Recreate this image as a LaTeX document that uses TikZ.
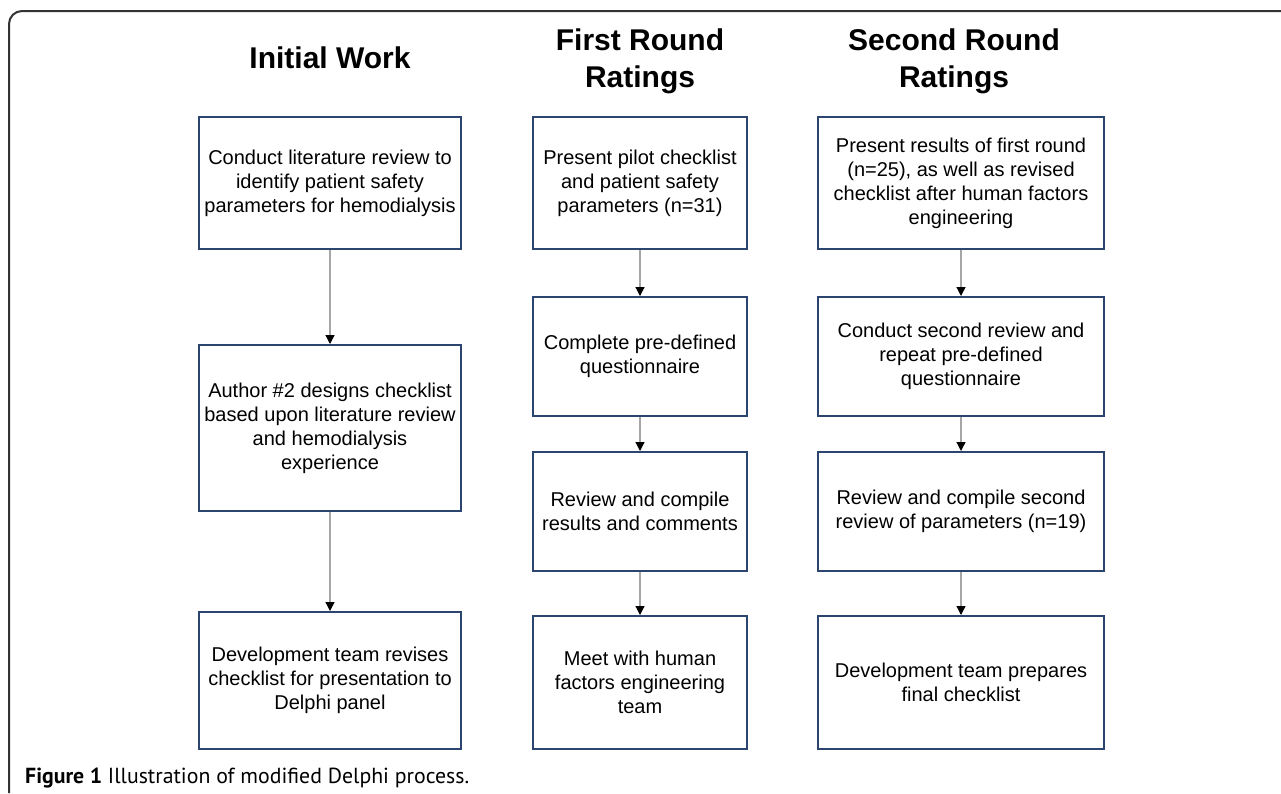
\documentclass[tikz,border=0pt]{standalone}
\usepackage{fontspec}
\setmainfont{Liberation Sans}
\newfontfamily\capfont{PT Sans}
\usetikzlibrary{arrows.meta}
\definecolor{boxblue}{HTML}{2B4570}
\definecolor{arrowgray}{HTML}{A6A6A6}
\definecolor{framegray}{HTML}{333333}
\tikzset{
  box/.style={draw=boxblue, line width=2pt, align=center, inner sep=0pt,
    font=\fontsize{20}{24}\selectfont},
  heading/.style={align=center, inner sep=0pt, font=\bfseries\fontsize{30}{37}\selectfont},
  flow/.style={draw=arrowgray, line width=1.2pt, -{Triangle[length=9pt,width=9pt,color=black]}},
}
\begin{document}
\begin{tikzpicture}[x=1pt,y=-1pt]
\useasboundingbox (0,0) rectangle (1281,793);
\draw[framegray, line width=2pt, rounded corners=13pt] (1281,11) -- (9,11) -- (9,793);

\node[heading] (h1) at (330,58) {Initial Work};
\node[heading] (h2) at (640,61.5) {First Round\\Ratings};
\node[heading] (h3) at (954,61.5) {Second Round\\Ratings};

% column 1
\node[box, minimum width=262pt, minimum height=132pt] (a1) at (330,183) {Conduct literature review to\\identify patient safety\\parameters for hemodialysis};
\node[box, minimum width=262pt, minimum height=166pt] (a2) at (330,428) {Author \#2 designs checklist\\based upon literature review\\and hemodialysis\\experience};
\node[box, minimum width=262pt, minimum height=137pt] (a3) at (330,680.5) {Development team revises\\checklist for presentation to\\Delphi panel};

% column 2
\node[box, minimum width=214pt, minimum height=132pt] (b1) at (640,183) {Present pilot checklist\\and patient safety\\parameters (n=31)};
\node[box, minimum width=214pt, minimum height=119pt] (b2) at (640,356.5) {Complete pre-defined\\questionnaire};
\node[box, minimum width=214pt, minimum height=119pt] (b3) at (640,511.5) {Review and compile\\results and comments};
\node[box, minimum width=214pt, minimum height=133pt] (b4) at (640,682.5) {Meet with human\\factors engineering\\team};

% column 3
\node[box, minimum width=286pt, minimum height=132pt] (c1) at (961,183) {Present results of first round\\(n=25), as well as revised\\checklist after human factors\\engineering};
\node[box, minimum width=286pt, minimum height=119pt] (c2) at (961,356.5) {Conduct second review and\\repeat pre-defined\\questionnaire};
\node[box, minimum width=286pt, minimum height=119pt] (c3) at (961,511.5) {Review and compile second\\review of parameters (n=19)};
\node[box, minimum width=286pt, minimum height=133pt] (c4) at (961,682.5) {Development team prepares\\final checklist};

\draw[flow] (a1) -- (a2);
\draw[flow] (a2) -- (a3);
\draw[flow] (b1) -- (b2);
\draw[flow] (b2) -- (b3);
\draw[flow] (b3) -- (b4);
\draw[flow] (c1) -- (c2);
\draw[flow] (c2) -- (c3);
\draw[flow] (c3) -- (c4);

\node[anchor=base west, inner sep=0pt, font=\capfont\fontsize{21.8}{24}\selectfont] (cap) at (25,783) {\textbf{Figure 1} Illustration of modified Delphi process.};
\end{tikzpicture}
\end{document}
